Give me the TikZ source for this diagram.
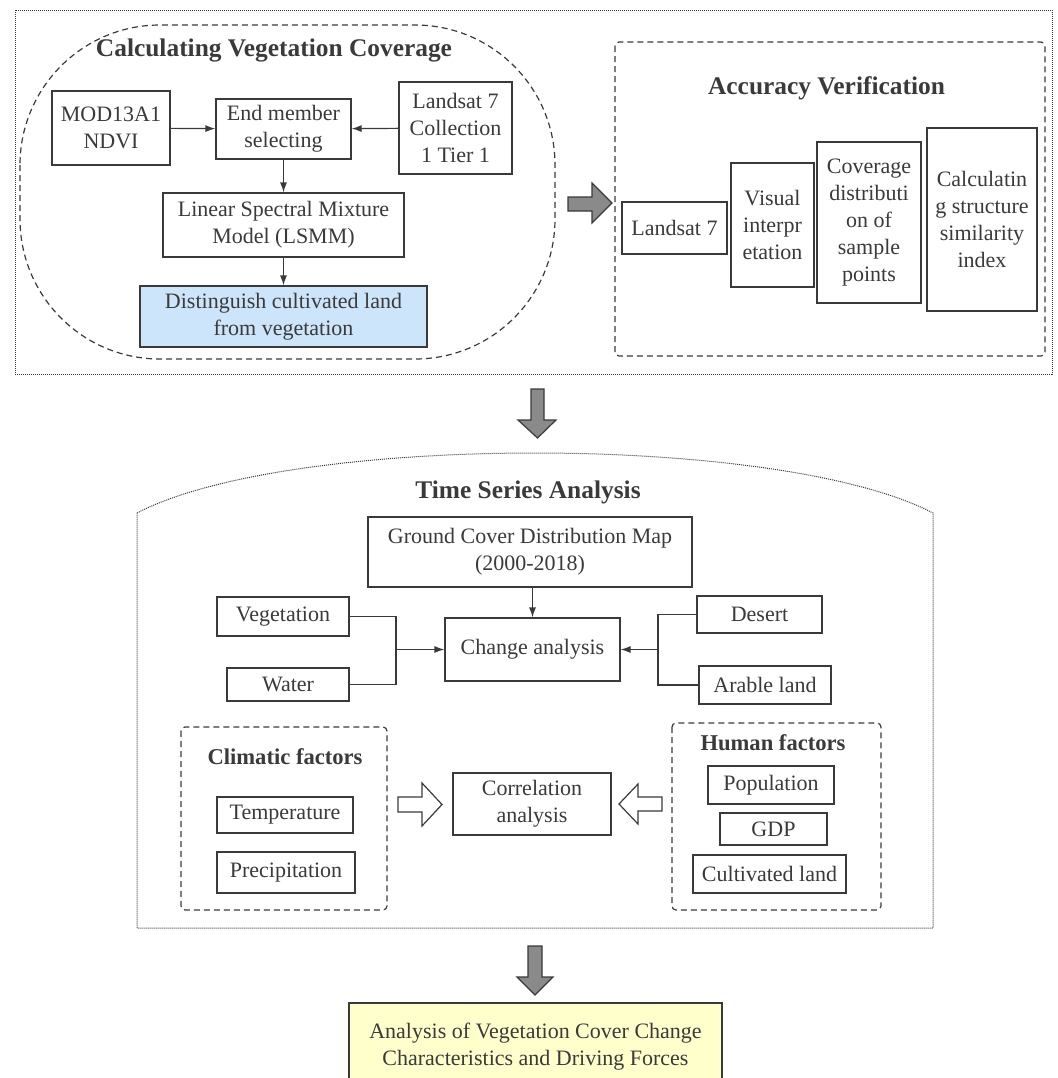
\documentclass[tikz,border=0pt]{standalone}
\usepackage{fontspec}
\setmainfont{Liberation Serif}
\usetikzlibrary{arrows.meta}
\definecolor{ink}{HTML}{3A3A3A}
\definecolor{lblue}{HTML}{CCE5FA}
\definecolor{lyellow}{HTML}{FFFFCC}
\definecolor{arrgray}{HTML}{8A8A8A}

\begin{document}
\begin{tikzpicture}[x=0.5pt,y=-0.5pt,
        box/.style={draw=ink,line width=0.6pt,fill=white,align=center,inner sep=0pt,
            text=ink,font=\fontsize{11pt}{13.5pt}\selectfont},
        grp/.style={draw=ink,line width=0.6pt,dash pattern=on 3pt off 2pt,rounded corners=2pt},
        outer/.style={draw=ink,line width=0.5pt,dash pattern=on 0.5pt off 0.5pt},
        ttl/.style={text=ink,font=\fontsize{12.7pt}{15pt}\selectfont\bfseries},
        sub/.style={text=ink,font=\fontsize{11.3pt}{14pt}\selectfont\bfseries},
        line/.style={draw=ink,line width=0.6pt},
        con/.style={line,-{Latex[length=5pt,width=3.5pt]}},
        fat/.style={draw=ink,line width=0.6pt,fill=arrgray},
        hollow/.style={draw=ink,line width=0.6pt,fill=white}]
\useasboundingbox (0,0) rectangle (1057,1078);
\clip (0,0) rectangle (1057,1078);

% first stage
\draw[outer] (15,10) rectangle (1052,374);
\draw[grp,rounded corners=70pt] (20,25) rectangle (555,359);
\node[ttl] (cvc) at (274,50) {Calculating Vegetation Coverage};
\node[box,minimum width=59pt,minimum height=37pt] (mod) at (111,128) {MOD13A1\\NDVI};
\node[box,minimum width=67.5pt,minimum height=30pt] (endm) at (283.5,129) {End member\\selecting};
\node[box,minimum width=56.5pt,minimum height=46pt] (ls7) at (455.5,128) {Landsat 7\\Collection\\1 Tier 1};
\node[box,minimum width=120.5pt,minimum height=32pt] (lsmm) at (283.5,225) {Linear Spectral Mixture\\Model (LSMM)};
\node[box,fill=lblue,minimum width=143.5pt,minimum height=30.5pt] (dist) at (283.5,316.5) {Distinguish cultivated land\\from vegetation};
\draw[con] (mod) -- (endm);
\draw[con] (ls7) -- (endm);
\draw[con] (endm) -- (lsmm);
\draw[con] (lsmm) -- (dist);

\draw[fat] (568,197) -- (592,197) -- (592,183) -- (612,203) -- (592,223) -- (592,211) -- (568,211) -- cycle;

\draw[grp] (615,42) rectangle (1045,356);
\node[ttl] (acc) at (826.5,88) {Accuracy Verification};
\node[box,minimum width=52.5pt,minimum height=26pt] (l7b) at (674.5,228) {Landsat 7};
\node[box,minimum width=41.5pt,minimum height=62pt] (vis) at (772.5,225) {Visual\\interpr\\etation};
\node[box,minimum width=52pt,minimum height=80.5pt] (cov) at (869,222.5) {Coverage\\distributi\\on of\\sample\\points};
\node[box,minimum width=55pt,minimum height=91.5pt] (ssim) at (982,219.5) {Calculatin\\g structure\\similarity\\index};

\draw[fat] (531,389) -- (544,389) -- (544,420) -- (556,420) -- (537.5,438) -- (518,420) -- (531,420) -- cycle;

% second stage
\draw[outer] (137,513) .. controls (290,433) and (780,433) .. (933,513) -- (933,928) -- (137,928) -- cycle;
\node[ttl] (tsa) at (528,492) {Time Series Analysis};
\node[box,minimum width=162pt,minimum height=35pt] (gcd) at (530,552) {Ground Cover Distribution Map\\(2000-2018)};
\node[box,minimum width=66pt,minimum height=19.5pt] (veg) at (283,616.5) {Vegetation};
\node[box,minimum width=61pt,minimum height=16.5pt] (wat) at (288,684.5) {Water};
\node[box,minimum width=87.5pt,minimum height=31.5pt] (chg) at (532.5,649.5) {Change analysis};
\node[box,minimum width=62.5pt,minimum height=18.5pt] (des) at (759.5,614.5) {Desert};
\node[box,minimum width=66pt,minimum height=19pt] (ara) at (765,685) {Arable land};
\coordinate (jl) at (396,649.5);
\coordinate (jr) at (658,649.5);
\draw[con] (chg.north |- gcd.south) -- (chg.north);
\draw[line] (veg.east) -| (jl);
\draw[line] (wat.east) -| (jl);
\draw[con] (jl) -- (chg.west);
\draw[line] (des.west) -| (jr);
\draw[line] (ara.west) -| (jr);
\draw[con] (jr) -- (chg.east);

\draw[grp] (181,727) rectangle (387,910);
\node[sub] (clim) at (285,757) {Climatic factors};
\node[box,minimum width=68pt,minimum height=18pt] (tmp) at (285,815) {Temperature};
\node[box,minimum width=69pt,minimum height=20.5pt] (pre) at (286,872.5) {Precipitation};

\node[box,minimum width=79pt,minimum height=31pt] (cor) at (532,804) {Correlation\\analysis};
\draw[hollow] (398,797) -- (422,797) -- (422,783) -- (442,804.5) -- (422,826) -- (422,812) -- (398,812) -- cycle;
\draw[hollow] (662,797) -- (638,797) -- (638,784) -- (619,804) -- (638,824) -- (638,811) -- (662,811) -- cycle;

\draw[grp] (672,723) rectangle (881,910);
\node[sub] (hum) at (773,743) {Human factors};
\node[box,minimum width=63pt,minimum height=19pt] (pop) at (771,785) {Population};
\node[box,minimum width=53.5pt,minimum height=16pt] (gdp) at (773.5,829) {GDP};
\node[box,minimum width=76.5pt,minimum height=19pt] (cul) at (769.5,874) {Cultivated land};

\draw[fat] (528,946) -- (542,946) -- (542,977) -- (553,977) -- (535,995) -- (517,977) -- (528,977) -- cycle;

% result
\node[box,fill=lyellow,minimum width=186.5pt,minimum height=43.5pt] (res) at (535.5,1046.5) {Analysis of Vegetation Cover Change\\Characteristics and Driving Forces};
\end{tikzpicture}
\end{document}
